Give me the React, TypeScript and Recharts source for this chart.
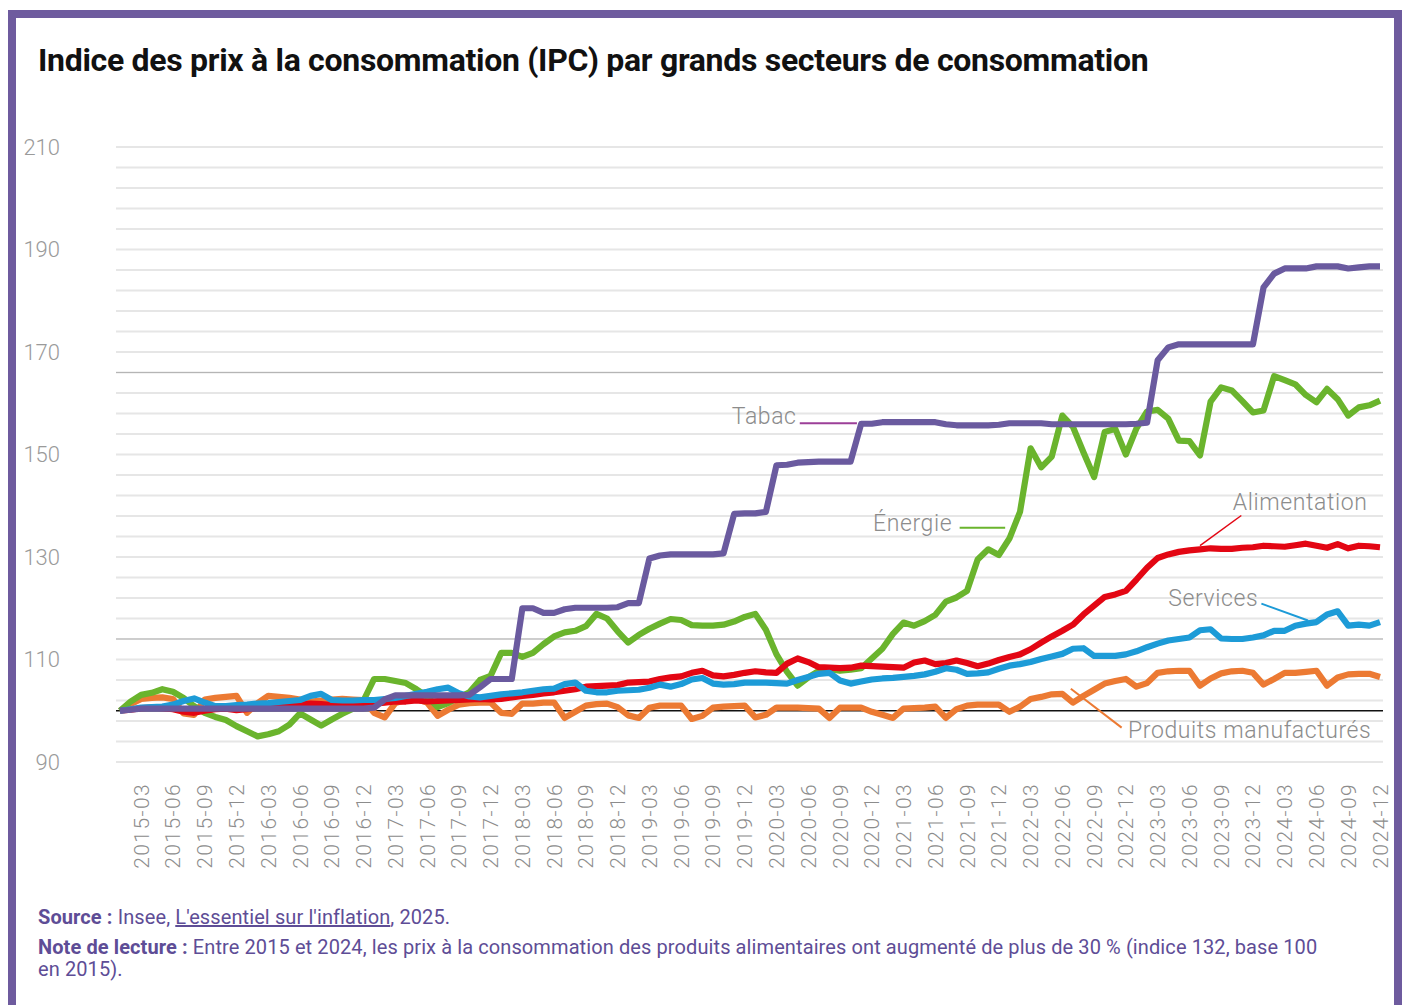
import { LineChart, Line, XAxis, YAxis, ReferenceLine, ReferenceDot } from 'recharts'

const YEARS = [2015, 2016, 2017, 2018, 2019, 2020, 2021, 2022, 2023, 2024]
const MONTH_NUMS = ['01', '02', '03', '04', '05', '06', '07', '08', '09', '10', '11', '12']
const MONTHS = YEARS.flatMap((y) => MONTH_NUMS.map((m) => `${y}-${m}`))
// one label every quarter: 2015-03, 2015-06 ... 2024-12
const TICK_IDX = MONTHS.map((m, i) => (['03', '06', '09', '12'].includes(m.slice(5)) ? i : -1)).filter((i) => i >= 0)
const Y_TICKS = [90, 110, 130, 150, 170, 190, 210]

const TABAC = [
  100, 100.2, 100.4, 100.4, 100.4, 100.4, 100.4, 100.4, 100.4, 100.4, 100.4, 100.4,
  100.4, 100.4, 100.4, 100.4, 100.4, 100.4, 100.4, 100.4, 100.4, 100.4, 100.4, 100.4,
  100.6, 102.2, 103, 103, 103, 103, 103, 103, 103, 103.1, 104.6, 106.2,
  106.2, 106.2, 120, 120, 119.1, 119.1, 119.8, 120.1, 120.1, 120.1, 120.1, 120.2,
  121, 121, 129.7, 130.3, 130.5, 130.5, 130.5, 130.5, 130.5, 130.7, 138.4, 138.5,
  138.5, 138.8, 147.9, 148, 148.4, 148.5, 148.6, 148.6, 148.6, 148.6, 156, 156,
  156.3, 156.3, 156.3, 156.3, 156.3, 156.3, 155.9, 155.7, 155.7, 155.7, 155.7, 155.8,
  156.1, 156.1, 156.1, 156.1, 155.9, 155.9, 155.9, 155.9, 155.9, 155.9, 155.9, 155.9,
  156, 156.2, 168.4, 170.9, 171.5, 171.5, 171.5, 171.5, 171.5, 171.5, 171.5, 171.5,
  182.6, 185.3, 186.3, 186.3, 186.3, 186.7, 186.7, 186.7, 186.3, 186.5, 186.7, 186.7,
]

const ENERGIE = [
  100, 101.8, 103.1, 103.5, 104.2, 103.7, 102.5, 100.9, 99.6, 98.8, 98.2, 97,
  96, 95, 95.4, 96, 97.3, 99.5, 98.3, 97.1, 98.3, 99.4, 100.4, 102,
  106.2, 106.2, 105.8, 105.4, 104.2, 102.8, 100.7, 101.5, 102.6, 103.6, 106, 106.8,
  111.3, 111.3, 110.5, 111.3, 113, 114.5, 115.3, 115.6, 116.5, 118.9, 118, 115.5,
  113.3, 114.8, 116, 117, 117.9, 117.7, 116.7, 116.6, 116.6, 116.8, 117.4, 118.3,
  118.9, 115.8, 111, 107.6, 104.9, 106.5, 107.8, 108.1, 107.8, 108, 108.3, 110.2,
  112.1, 115, 117.2, 116.6, 117.5, 118.7, 121.3, 122.1, 123.4, 129.5, 131.5, 130.4,
  133.6, 138.8, 151.2, 147.5, 149.6, 157.6, 155.4, 150.4, 145.6, 154.4, 155, 150,
  155.1, 158.4, 158.7, 157, 152.7, 152.6, 149.8, 160.3, 163.1, 162.5, 160.4, 158.2,
  158.6, 165.3, 164.5, 163.7, 161.6, 160.2, 162.8, 160.8, 157.6, 159.2, 159.6, 160.5,
]

const ALIMENTATION = [
  100, 100.2, 100.5, 100.6, 100.5, 100.3, 99.8, 99.6, 100, 100.3, 100.4, 100.1,
  100.3, 100.6, 100.8, 101, 101.1, 101.2, 101.4, 101.3, 101.1, 101.1, 101.3, 101.3,
  101.4, 101.6, 101.8, 101.8, 102, 101.8, 101.9, 102, 102.1, 102.2, 102.3, 102.2,
  102.3, 102.6, 102.9, 103.1, 103.4, 103.6, 103.9, 104.2, 104.7, 104.8, 104.9, 105,
  105.5, 105.6, 105.7, 106.2, 106.5, 106.7, 107.4, 107.8, 106.9, 106.7, 107, 107.4,
  107.7, 107.5, 107.4, 109.2, 110.2, 109.5, 108.5, 108.4, 108.3, 108.4, 108.8, 108.7,
  108.6, 108.5, 108.4, 109.4, 109.8, 109.1, 109.3, 109.8, 109.3, 108.7, 109.2, 109.9,
  110.5, 111, 112, 113.3, 114.5, 115.6, 116.8, 118.8, 120.5, 122.2, 122.7, 123.4,
  125.6, 127.9, 129.8, 130.5, 131, 131.3, 131.5, 131.7, 131.6, 131.6, 131.8, 131.9,
  132.2, 132.1, 132, 132.3, 132.6, 132.2, 131.8, 132.5, 131.7, 132.2, 132.1, 131.9,
]

const SERVICES = [
  100, 100.3, 100.6, 100.7, 100.8, 101.2, 101.9, 102.4, 101.6, 100.9, 100.9, 101.1,
  101.2, 101.4, 101.5, 101.7, 101.9, 102.1, 102.9, 103.3, 102.1, 102, 102, 102.1,
  102.1, 102.3, 102.5, 102.9, 103.3, 103.7, 104.2, 104.5, 103.4, 102.8, 102.6, 102.9,
  103.2, 103.4, 103.6, 103.9, 104.2, 104.3, 105.2, 105.5, 103.9, 103.6, 103.6, 103.9,
  104, 104.1, 104.5, 105.1, 104.7, 105.2, 106.1, 106.4, 105.3, 105.1, 105.2, 105.5,
  105.5, 105.5, 105.4, 105.3, 106, 106.6, 107.2, 107.4, 105.9, 105.3, 105.7, 106.1,
  106.3, 106.4, 106.6, 106.8, 107.1, 107.6, 108.3, 108, 107.2, 107.3, 107.5, 108.2,
  108.8, 109.1, 109.5, 110.1, 110.6, 111.1, 112.1, 112.2, 110.7, 110.7, 110.7, 111,
  111.6, 112.4, 113.1, 113.7, 114, 114.3, 115.7, 115.9, 114.1, 114, 114, 114.3,
  114.7, 115.6, 115.6, 116.6, 117, 117.3, 118.8, 119.4, 116.6, 116.8, 116.6, 117.3,
]

const MANUFACTURES = [
  100, 101.3, 102.3, 102.5, 102.6, 102.3, 99.5, 99.2, 102.2, 102.5, 102.7, 102.9,
  99.6, 101.5, 102.9, 102.7, 102.5, 102.2, 101.8, 102, 102.2, 102.3, 102.2, 102.1,
  99.6, 98.7, 101.5, 102.1, 102.3, 101.6, 99, 100.2, 101.2, 101.5, 101.6, 101.6,
  99.6, 99.4, 101.4, 101.4, 101.6, 101.6, 98.6, 99.8, 101, 101.3, 101.4, 100.7,
  99.1, 98.6, 100.6, 101, 101, 101, 98.4, 99, 100.6, 100.8, 100.9, 101,
  98.7, 99.2, 100.6, 100.6, 100.6, 100.5, 100.4, 98.6, 100.6, 100.6, 100.6, 99.8,
  99.2, 98.6, 100.4, 100.5, 100.6, 100.8, 98.6, 100.3, 101, 101.2, 101.2, 101.2,
  99.8, 100.8, 102.3, 102.7, 103.2, 103.3, 101.6, 102.9, 104.1, 105.3, 105.8, 106.2,
  104.7, 105.4, 107.4, 107.7, 107.8, 107.8, 104.9, 106.3, 107.3, 107.7, 107.8, 107.4,
  105.1, 106.2, 107.4, 107.4, 107.6, 107.8, 104.9, 106.5, 107.1, 107.2, 107.2, 106.6,
]

const COLORS = {
  tabac: '#6a5a9f',
  energie: '#6ab42d',
  alimentation: '#e30613',
  services: '#1d9bd7',
  manufactures: '#ec7a33',
}
const FRAME = '#6e5b9e'
const LABEL_GRAY = '#8c8c8c'
const LINE_W = 6.2

const GRID_VALUES = Array.from({ length: 31 }, (_, k) => 90 + k * 4)
const DARK_GRID = [114, 166]

const rows = MONTHS.map((month, i) => ({
  i,
  month,
  tabac: TABAC[i],
  energie: ENERGIE[i],
  alimentation: ALIMENTATION[i],
  services: SERVICES[i],
  manufactures: MANUFACTURES[i],
}))

function MonthTick({ x, y, payload }: any) {
  return (
    <text
      x={x}
      y={y}
      transform={`rotate(-90 ${x} ${y})`}
      textAnchor="end"
      dy="0.36em"
      fill={LABEL_GRAY}
      fontSize={21}
      fontWeight={300}
      letterSpacing={1.4}
      fontFamily="Roboto"
    >
      {MONTHS[payload.value]}
    </text>
  )
}

const noteStyle = {
  fill: LABEL_GRAY,
  fontSize: 23,
  fontWeight: 300,
  fontFamily: 'Roboto',
  letterSpacing: 0.6,
}

function App() {
  return (
    <div
      style={{
        position: 'absolute',
        left: 8,
        top: 10,
        width: 1394,
        height: 1010,
        boxSizing: 'border-box',
        border: `8px solid ${FRAME}`,
        background: '#fff',
        fontFamily: 'Roboto, sans-serif',
      }}
    >
      <div
        style={{
          position: 'absolute',
          left: 22,
          top: 23,
          fontSize: 32,
          lineHeight: '38px',
          fontWeight: 700,
          color: '#111',
          letterSpacing: -0.3,
          whiteSpace: 'nowrap',
        }}
      >
        Indice des prix à la consommation (IPC) par grands secteurs de consommation
      </div>

      <div style={{ position: 'absolute', left: 0, top: 82 }}>
        <LineChart width={1378} height={770} data={rows} margin={{ top: 47, right: 11, bottom: 0, left: 0 }}>
          <XAxis
            dataKey="i"
            type="number"
            domain={[0, 119]}
            ticks={TICK_IDX}
            interval={0}
            padding={{ left: 4, right: 3 }}
            axisLine={false}
            tickLine={false}
            tickSize={6}
            tickMargin={15}
            height={108}
            tick={<MonthTick />}
          />
          <YAxis
            type="number"
            domain={[90, 210]}
            ticks={Y_TICKS}
            interval={0}
            width={100}
            axisLine={false}
            tickLine={false}
            tickMargin={50}
            tick={{ fill: '#9a9a9a', fontSize: 22, fontWeight: 300, fontFamily: 'Roboto' }}
          />

          {GRID_VALUES.map((v) => (
            <ReferenceLine key={v} y={v} stroke="#e6e6e6" strokeWidth={2} />
          ))}
          {DARK_GRID.map((v) => (
            <ReferenceLine key={'d' + v} y={v} stroke="#b5b5b5" strokeWidth={1} />
          ))}
          <ReferenceLine y={100} stroke="#111" strokeWidth={1.5} />

          <Line dataKey="manufactures" stroke={COLORS.manufactures} strokeWidth={LINE_W} dot={false} isAnimationActive={false} strokeLinejoin="round" />
          <Line dataKey="energie" stroke={COLORS.energie} strokeWidth={LINE_W} dot={false} isAnimationActive={false} strokeLinejoin="round" />
          <Line dataKey="alimentation" stroke={COLORS.alimentation} strokeWidth={LINE_W} dot={false} isAnimationActive={false} strokeLinejoin="round" />
          <Line dataKey="services" stroke={COLORS.services} strokeWidth={LINE_W} dot={false} isAnimationActive={false} strokeLinejoin="round" />
          <Line dataKey="tabac" stroke={COLORS.tabac} strokeWidth={LINE_W} dot={false} isAnimationActive={false} strokeLinejoin="round" />

          {/* series labels with their leader lines */}
          <ReferenceLine segment={[{ x: 64.2, y: 156.1 }, { x: 69.6, y: 156.1 }]} stroke="#9c3f98" strokeWidth={2} />
          <ReferenceDot x={63.9} y={157.6} r={0} fill="none" stroke="none" label={{ value: 'Tabac', position: 'left', offset: 0, ...noteStyle }} />

          <ReferenceLine segment={[{ x: 79.3, y: 135.7 }, { x: 83.6, y: 135.7 }]} stroke={COLORS.energie} strokeWidth={2} />
          <ReferenceDot x={78.6} y={136.7} r={0} fill="none" stroke="none" label={{ value: 'Énergie', position: 'left', offset: 0, ...noteStyle }} />

          <ReferenceLine segment={[{ x: 105.9, y: 138.1 }, { x: 102, y: 132.2 }]} stroke={COLORS.alimentation} strokeWidth={1.5} />
          <ReferenceDot x={105.1} y={140.8} r={0} fill="none" stroke="none" label={{ value: 'Alimentation', position: 'right', offset: 0, ...noteStyle }} />

          <ReferenceLine segment={[{ x: 107.8, y: 120.9 }, { x: 112.2, y: 117.6 }]} stroke={COLORS.services} strokeWidth={2} />
          <ReferenceDot x={99} y={122.1} r={0} fill="none" stroke="none" label={{ value: 'Services', position: 'right', offset: 0, ...noteStyle }} />

          <ReferenceLine segment={[{ x: 94.6, y: 96.7 }, { x: 89.8, y: 104.3 }]} stroke={COLORS.manufactures} strokeWidth={2} />
          <ReferenceDot x={95.2} y={96.3} r={0} fill="none" stroke="none" label={{ value: 'Produits manufacturés', position: 'right', offset: 0, ...noteStyle }} />
        </LineChart>
      </div>

      <div
        style={{
          position: 'absolute',
          left: 22,
          top: 888,
          fontSize: 20,
          lineHeight: '22px',
          color: '#5e4d96',
          letterSpacing: 0.1,
          whiteSpace: 'nowrap',
        }}
      >
        <div>
          <b>Source :</b> Insee, <span style={{ textDecoration: 'underline' }}>L'essentiel sur l'inflation</span>, 2025.
        </div>
        <div style={{ marginTop: 8 }}>
          <b>Note de lecture :</b> Entre 2015 et 2024, les prix à la consommation des produits alimentaires ont augmenté de plus de 30 % (indice 132, base 100
          <br />
          en 2015).
        </div>
      </div>
    </div>
  )
}

export default App
